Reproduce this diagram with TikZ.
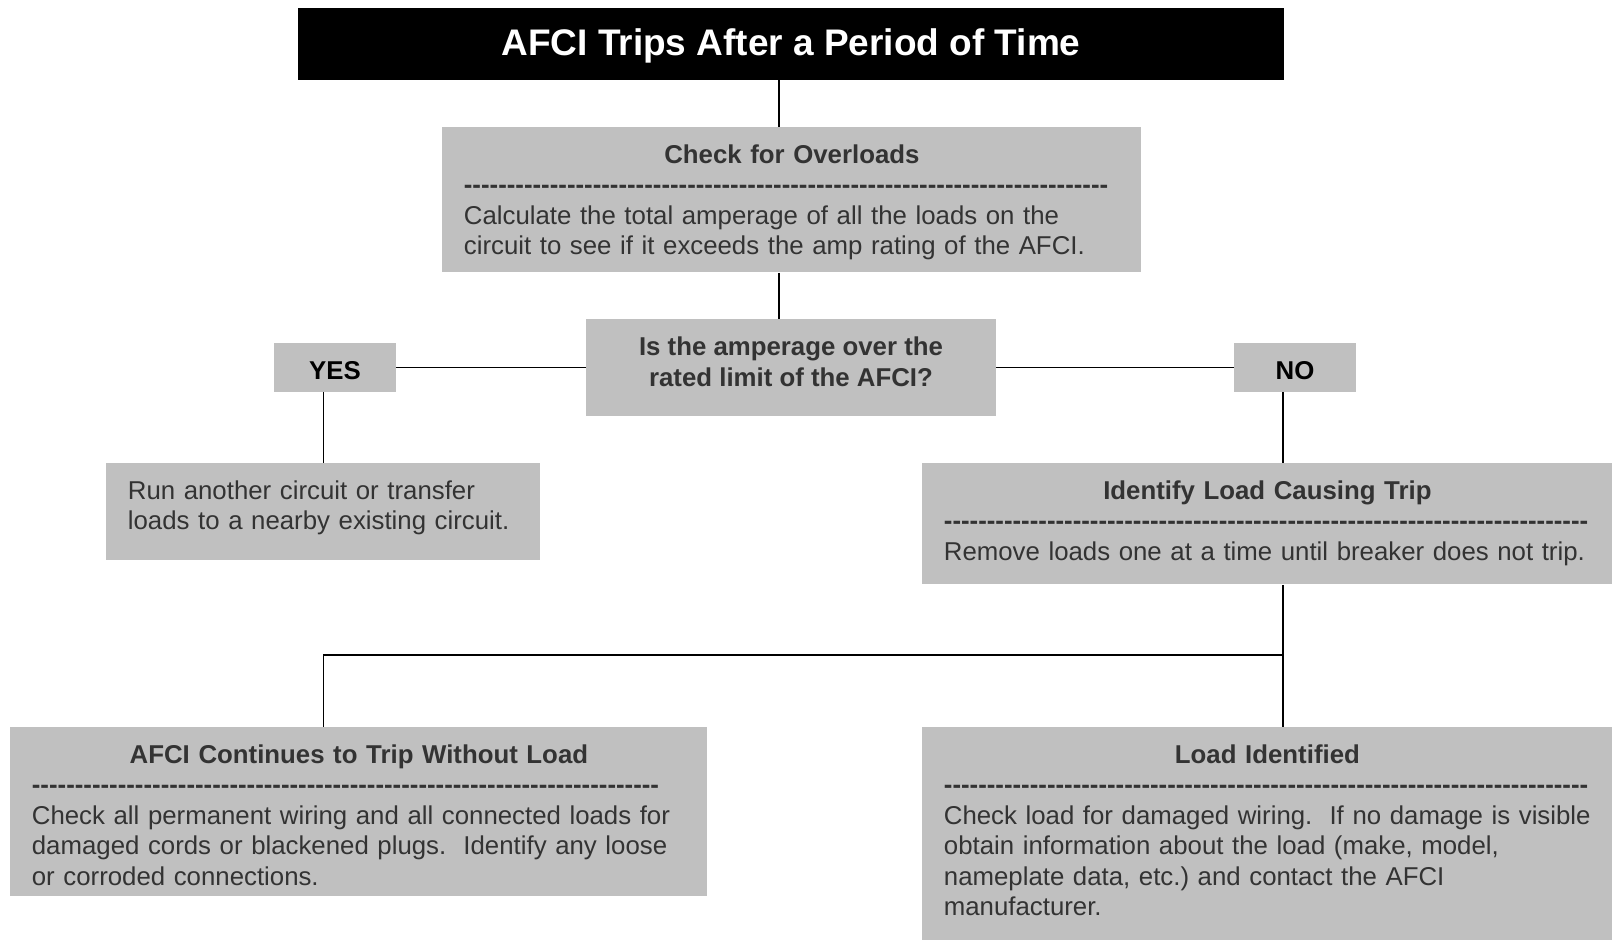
\documentclass[tikz,border=0pt]{standalone}
\usepackage{fontspec}
\setmainfont{Liberation Sans}
\usepackage{xcolor}
\definecolor{boxgray}{RGB}{192,192,192}
\definecolor{inkgray}{RGB}{51,51,51}
\newcommand{\dashrow}[1]{\foreach \k in {1,...,#1}{-}}
\hyphenpenalty=10000
\exhyphenpenalty=10000
\frenchspacing

\begin{document}
\begin{tikzpicture}[
  x=0.5pt, y=-0.5pt,
  bodytxt/.style={font=\fontsize{12.9pt}{15.25pt}\selectfont},
  card/.style={bodytxt, fill=boxgray, text=inkgray, anchor=north west,
    align=left, inner xsep=10.75pt, inner ysep=0pt, text height=18pt},
  tag/.style={fill=boxgray, font=\fontsize{12.9pt}{15.5pt}\selectfont\bfseries,
    minimum width=61pt, inner sep=0pt, text height=18.5pt, text depth=6pt},
  link/.style={line width=0.7pt, black}
]
  \useasboundingbox (0,0) rectangle (1612,940);

  % header
  \node[fill=black, text=white, font=\fontsize{18.5pt}{22pt}\selectfont\bfseries,
        minimum width=493pt, inner sep=0pt, text height=24pt, text depth=12pt]
    (title) at (791,44) {AFCI Trips After a Period of Time};

  \node[card, text width=328pt, text depth=54.5pt] (check) at (442,127)
    {{\centering\bfseries Check for Overloads\par}
     {\bfseries\dashrow{75}\par}
     Calculate the total amperage of all the loads on the\\
     circuit to see if it exceeds the amp rating of the AFCI.};

  \node[tag, text=inkgray, align=center, minimum width=205pt,
        text height=33.75pt, text depth=14.75pt] (ask) at (791,367.5)
    {Is the amperage over the\\rated limit of the AFCI?};

  \node[tag] (yes) at (335,367.5) {YES};
  \node[tag] (no) at (1295,367.5) {NO};

  \node[card, text width=195.5pt, text depth=30.5pt] (run) at (106,463)
    {Run another circuit or transfer\\
     loads to a nearby existing circuit.};

  \node[card, text width=323.5pt, text depth=42.5pt] (ident) at (922,463)
    {{\centering\bfseries Identify Load Causing Trip\par}
     {\bfseries\dashrow{75}\par}
     Remove loads one at a time until breaker does not trip.};

  \node[card, text width=327pt, text depth=66.5pt] (nolo) at (10,727)
    {{\centering\bfseries AFCI Continues to Trip Without Load\par}
     {\bfseries\dashrow{73}\par}
     Check all permanent wiring and all connected loads for\\
     damaged cords or blackened plugs.\ \ Identify any loose\\
     or corroded connections.};

  \node[card, text width=323.5pt, text depth=88.5pt] (found) at (922,727)
    {{\centering\bfseries Load Identified\par}
     {\bfseries\dashrow{75}\par}
     Check load for damaged wiring.\ \ If no damage is visible\\
     obtain information about the load (make, model,\\
     nameplate data, etc.) and contact the AFCI\\
     manufacturer.};

  % connectors
  \coordinate (spine) at ([xshift=-6pt]title.south);
  \coordinate (nodrop) at ([xshift=-6pt]no.south);
  \coordinate (split) at (1283,655);

  \draw[link] (spine) -- (spine |- check.north);
  \draw[link] (check.south -| spine) -- (ask.north -| spine);
  \draw[link] (yes.east) -- (ask.west);
  \draw[link] (ask.east) -- (no.west);
  \draw[link] (run.north |- yes.south) -- (run.north);
  \draw[link] (nodrop) -- (nodrop |- ident.north);
  \draw[link] (ident.south -| nodrop) -- (found.north -| nodrop);
  \draw[link] (split) -| (run.north |- nolo.north);

\end{tikzpicture}
\end{document}
